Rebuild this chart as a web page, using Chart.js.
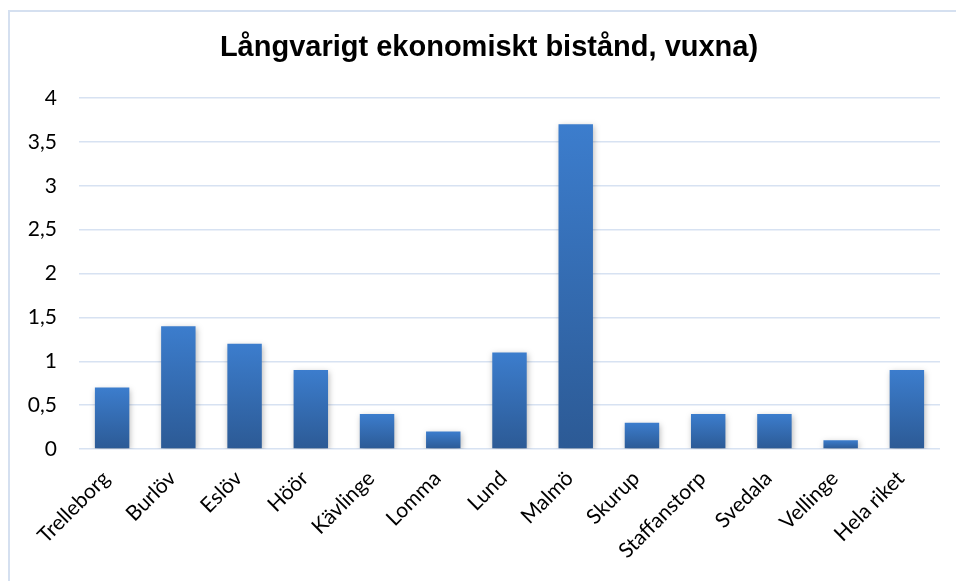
<!DOCTYPE html>
<html>
<head>
<meta charset="utf-8">
<script src="https://cdn.jsdelivr.net/npm/chart.js@4.4.1/dist/chart.umd.min.js"></script>
<style>
  html, body { margin: 0; padding: 0; background: #fff; }
  #wrap { width: 956px; height: 581px; position: relative; }
</style>
</head>
<body>
<div id="wrap"><canvas id="bistandChart"></canvas></div>
<script>
// kommuner + riket
const kommuner = ['Trelleborg', 'Burlöv', 'Eslöv', 'Höör', 'Kävlinge', 'Lomma', 'Lund',
    'Malmö', 'Skurup', 'Staffanstorp', 'Svedala', 'Vellinge', 'Hela riket'];
// andel vuxna med långvarigt ekonomiskt bistånd (%)
const andelVuxna = [0.7, 1.4, 1.2, 0.9, 0.4, 0.2, 1.1, 3.7, 0.3, 0.4, 0.4, 0.1, 0.9];
const yTicks = [0, 0.5, 1, 1.5, 2, 2.5, 3, 3.5, 4];
const chartTitle = 'Långvarigt ekonomiskt bistånd, vuxna)';

// light frame around the chart + title centred on the frame (not the plot)
const framePlugin = {
    id: 'frame',
    beforeDraw(chart) {
        const c = chart.ctx;
        c.save();
        c.strokeStyle = '#d5e0f0';
        c.lineWidth = 2;
        c.strokeRect(9, 11, 960, 600);
        c.restore();
    },
    afterDraw(chart) {
        const c = chart.ctx;
        c.save();
        c.fillStyle = '#000';
        c.font = 'bold 29px "Liberation Sans"';
        c.textAlign = 'center';
        c.textBaseline = 'middle';
        c.fillText(chartTitle, 489, 48);
        c.restore();
    }
};

// soft shadow behind bars
const shadowPlugin = {
    id: 'barShadow',
    beforeDatasetDraw(chart) {
        const c = chart.ctx;
        c.save();
        c.shadowColor = 'rgba(0,0,0,0.28)';
        c.shadowBlur = 6;
        c.shadowOffsetX = 1;
        c.shadowOffsetY = 2;
    },
    afterDatasetDraw(chart) {
        chart.ctx.restore();
    }
};

function barGradient(context) {
    const chart = context.chart;
    if (!chart.chartArea) return '#3a78c6';
    const y = chart.scales.y;
    const top = y.getPixelForValue(context.raw);
    const base = y.getPixelForValue(0);
    const g = chart.ctx.createLinearGradient(0, top, 0, base);
    g.addColorStop(0, '#3c7dcd');
    g.addColorStop(1, '#2c5a95');
    return g;
}

var ctx = document.getElementById('bistandChart').getContext('2d');
var bistandChart = new Chart(ctx, {
    type: 'bar',
    data: {
        labels: kommuner,
        datasets: [{
            label: 'Långvarigt ekonomiskt bistånd',
            data: andelVuxna,
            backgroundColor: barGradient,
            borderWidth: 0,
            categoryPercentage: 1,
            barPercentage: 0.52
        }]
    },
    options: {
        responsive: true,
        maintainAspectRatio: false,
        animation: false,
        layout: {
            padding: { left: 10, right: 16, top: 98, bottom: 0 }
        },
        scales: {
            x: {
                grid: { display: false },
                border: { display: false },
                ticks: {
                    color: '#000',
                    font: { family: 'Lato', size: 21 },
                    minRotation: 45,
                    maxRotation: 45,
                    padding: 9,
                    labelOffset: -6
                },
                afterFit(scale) { scale.height = 132; }
            },
            y: {
                min: 0,
                max: 4,
                afterBuildTicks(scale) {
                    scale.ticks = yTicks.map(v => ({ value: v }));
                },
                grid: { color: '#d7e2f2', lineWidth: 1.5, drawTicks: false },
                border: { display: false },
                ticks: {
                    color: '#000',
                    padding: 22,
                    font: { family: 'Lato', size: 21 },
                    callback: v => String(v).replace('.', ',')
                },
                afterFit(scale) { scale.width = 69; }
            }
        },
        plugins: {
            legend: { display: false },
            tooltip: { enabled: false },
            title: { display: false }
        }
    },
    plugins: [framePlugin, shadowPlugin]
});
</script>
</body>
</html>
